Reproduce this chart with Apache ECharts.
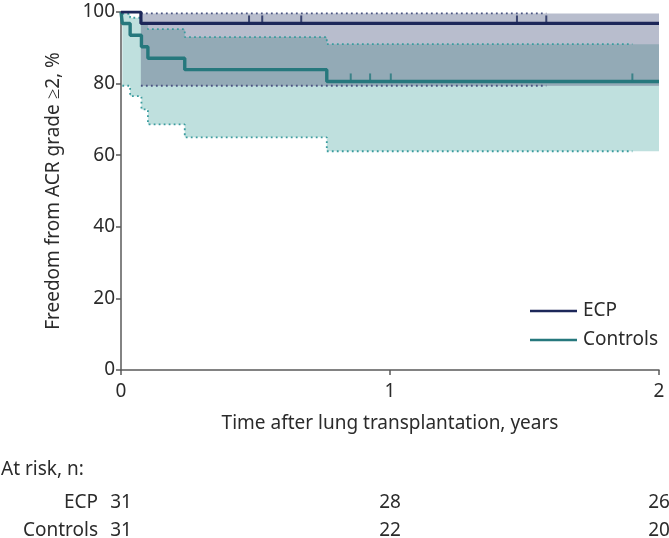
<!DOCTYPE html>
<html>
<head>
<meta charset="utf-8">
<script src="https://cdn.jsdelivr.net/npm/echarts@6/dist/echarts.min.js"></script>
<style>
html,body{margin:0;padding:0;background:#fff;}
#chart{width:669px;height:538px;}
</style>
</head>
<body>
<div id="chart"></div>
<script>
// ---- Data ----
const xTicks = [0, 1, 2];
const yTicks = [0, 20, 40, 60, 80, 100];
const timeEnd = 2;

// ECP Kaplan-Meier steps (years, %)
const ecpStepTimes = [0, 0.074];
const ecpSurvival = [100, 96.8];
const ecpCITimes = [0.074];
const ecpCIUpper = [99.6];
const ecpCILower = [79.4];
const ecpCensorTimes = [0.476, 0.525, 0.670, 1.472, 1.581];

// Controls Kaplan-Meier steps (years, %)
const ctrlStepTimes = [0, 0.005, 0.034, 0.076, 0.100, 0.237, 0.765];
const ctrlSurvival = [100, 96.8, 93.5, 90.3, 87.1, 83.9, 80.6];
const ctrlCITimes = [0.005, 0.034, 0.076, 0.100, 0.237, 0.765];
const ctrlCIUpper = [99.5, 98.4, 96.8, 95.2, 93.0, 91.0];
const ctrlCILower = [79.4, 76.5, 72.8, 68.6, 65.0, 61.1];
const ctrlCensorTimes = [0.854, 0.926, 1.003, 1.901];

// Numbers at risk at 0, 1, 2 years
const riskTimes = [0, 1, 2];
const ecpAtRisk = [31, 28, 26];
const ctrlAtRisk = [31, 22, 20];

// ---- Helpers ----
function stepValue(times, vals, t) {
  let v = null;
  for (let i = 0; i < times.length; i++) { if (times[i] <= t) v = vals[i]; }
  return v;
}
function stepData(times, vals, endT) {
  const pts = times.map((t, i) => [t, vals[i]]);
  pts.push([endT, vals[vals.length - 1]]);
  return pts;
}
function bandPolygon(times, up, low, endT) {
  const pts = [];
  for (let i = 0; i < times.length; i++) {
    const t1 = i + 1 < times.length ? times[i + 1] : endT;
    pts.push([times[i], up[i]], [t1, up[i]]);
  }
  for (let i = times.length - 1; i >= 0; i--) {
    const t1 = i + 1 < times.length ? times[i + 1] : endT;
    pts.push([t1, low[i]], [times[i], low[i]]);
  }
  return pts;
}
// overlap band of the two confidence intervals
const ovStart = Math.max(ecpCITimes[0], ctrlCITimes[0]);
const ovTimes = Array.from(new Set([...ecpCITimes, ...ctrlCITimes].filter(t => t >= ovStart))).sort((a, b) => a - b);
const ovUpper = ovTimes.map(t => Math.min(stepValue(ecpCITimes, ecpCIUpper, t), stepValue(ctrlCITimes, ctrlCIUpper, t)));
const ovLower = ovTimes.map(t => Math.max(stepValue(ecpCITimes, ecpCILower, t), stepValue(ctrlCITimes, ctrlCILower, t)));

const ecpBand = bandPolygon(ecpCITimes, ecpCIUpper, ecpCILower, timeEnd);
const ctrlBand = bandPolygon(ctrlCITimes, ctrlCIUpper, ctrlCILower, timeEnd);
const ovBand = bandPolygon(ovTimes, ovUpper, ovLower, timeEnd);

function bandSeries(poly, color) {
  return {
    type: 'custom', silent: true, z: 1, clip: true,
    data: [[0, 0]],
    renderItem: function (params, api) {
      return { type: 'polygon', shape: { points: poly.map(p => api.coord(p)) }, style: { fill: color } };
    }
  };
}

const ecpLast = Math.max(...ecpCensorTimes);
const ctrlLast = Math.max(...ctrlCensorTimes);

const FONT = 'Noto Sans';
const TXT = '#2b2b2b';
const AX = '#5a5a5a';
const ECP_C = '#1c2759';
const CTRL_C = '#26787d';

const chart = echarts.init(document.getElementById('chart'), null, { renderer: 'canvas' });
chart.setOption({
  animation: false,
  textStyle: { fontFamily: FONT },
  grid: { left: 121, right: 10, top: 12, bottom: 168, containLabel: false, outerBoundsMode: 'none' },
  legend: {
    data: ['ECP', 'Controls'],
    orient: 'vertical', left: 525, top: 296,
    icon: 'rect', itemWidth: 47, itemHeight: 2.5, itemGap: 9,
    textStyle: { fontSize: 19, color: TXT, fontFamily: FONT, lineHeight: 20, padding: [0, 0, 0, 1] }
  },
  graphic: [
    { type: 'text', left: 1, top: 460, style: { text: 'At risk, n:', fontSize: 19, fill: TXT, fontFamily: FONT } }
  ],
  xAxis: [
    {
      type: 'value', min: xTicks[0], max: xTicks[xTicks.length - 1], interval: 1,
      name: 'Time after lung transplantation, years', nameLocation: 'middle', nameGap: 44,
      nameTextStyle: { fontSize: 19, color: TXT },
      axisLine: { show: true, lineStyle: { color: AX, width: 1.5 } },
      axisTick: { show: true, length: 5, lineStyle: { color: AX, width: 1.5 } },
      axisLabel: { fontSize: 19, color: TXT, margin: 12 },
      splitLine: { show: false }
    },
    {
      type: 'value', min: 0, max: 2, interval: 1, position: 'bottom', offset: 133,
      name: 'ECP', nameLocation: 'start', nameGap: 23,
      nameTextStyle: { fontSize: 19, color: TXT },
      axisLine: { show: false }, axisTick: { show: false }, splitLine: { show: false },
      axisLabel: { fontSize: 19, color: TXT, margin: -10, formatter: v => String(ecpAtRisk[riskTimes.indexOf(Math.round(v))]) }
    },
    {
      type: 'value', min: 0, max: 2, interval: 1, position: 'bottom', offset: 161,
      name: 'Controls', nameLocation: 'start', nameGap: 23,
      nameTextStyle: { fontSize: 19, color: TXT },
      axisLine: { show: false }, axisTick: { show: false }, splitLine: { show: false },
      axisLabel: { fontSize: 19, color: TXT, margin: -10, formatter: v => String(ctrlAtRisk[riskTimes.indexOf(Math.round(v))]) }
    }
  ],
  yAxis: {
    type: 'value', min: yTicks[0], max: yTicks[yTicks.length - 1], interval: 20,
    name: 'Freedom from ACR grade \u22652, %', nameLocation: 'middle', nameGap: 58,
    nameTextStyle: { fontSize: 19, color: TXT },
    axisLine: { show: true, lineStyle: { color: AX, width: 1.5 } },
    axisTick: { show: true, length: 5, lineStyle: { color: AX, width: 1.5 } },
    axisLabel: { fontSize: 19, color: TXT, margin: 6 },
    splitLine: { show: false }
  },
  series: [
    bandSeries(ctrlBand, '#bfe0de'),
    bandSeries(ecpBand, '#b8bdcd'),
    bandSeries(ovBand, '#93aab6'),
    {
      name: 'ECP CI upper', type: 'line', step: 'end', symbol: 'none', silent: true, z: 2,
      data: stepData(ecpCITimes, ecpCIUpper, ecpLast),
      lineStyle: { color: '#4a5582', width: 1.8, type: [1.8, 3.2] }
    },
    {
      name: 'ECP CI lower', type: 'line', step: 'end', symbol: 'none', silent: true, z: 2,
      data: stepData(ecpCITimes, ecpCILower, ecpLast),
      lineStyle: { color: '#4a5582', width: 1.8, type: [1.8, 3.2] }
    },
    {
      name: 'Controls CI upper', type: 'line', step: 'end', symbol: 'none', silent: true, z: 2,
      data: stepData(ctrlCITimes, ctrlCIUpper, ctrlLast),
      lineStyle: { color: '#3a9c9e', width: 1.8, type: [1.8, 3.2] }
    },
    {
      name: 'Controls CI lower', type: 'line', step: 'end', symbol: 'none', silent: true, z: 2,
      data: stepData(ctrlCITimes, ctrlCILower, ctrlLast),
      lineStyle: { color: '#3a9c9e', width: 1.8, type: [1.8, 3.2] }
    },
    {
      name: 'Controls', type: 'line', step: 'end', symbol: 'none', z: 3,
      data: stepData(ctrlStepTimes, ctrlSurvival, timeEnd),
      itemStyle: { color: CTRL_C },
      lineStyle: { color: CTRL_C, width: 3.4 }
    },
    {
      name: 'ECP', type: 'line', step: 'end', symbol: 'none', z: 4,
      data: stepData(ecpStepTimes, ecpSurvival, timeEnd),
      itemStyle: { color: ECP_C },
      lineStyle: { color: ECP_C, width: 3.2 }
    },
    {
      name: 'ECP censored', type: 'scatter', silent: true, z: 5,
      symbol: 'rect', symbolSize: [2, 8], symbolOffset: [0, -4],
      itemStyle: { color: ECP_C },
      data: ecpCensorTimes.map(t => [t, stepValue(ecpStepTimes, ecpSurvival, t)])
    },
    {
      name: 'Controls censored', type: 'scatter', silent: true, z: 5,
      symbol: 'rect', symbolSize: [2, 8], symbolOffset: [0, -4],
      itemStyle: { color: CTRL_C },
      data: ctrlCensorTimes.map(t => [t, stepValue(ctrlStepTimes, ctrlSurvival, t)])
    }
  ]
});
</script>
</body>
</html>
